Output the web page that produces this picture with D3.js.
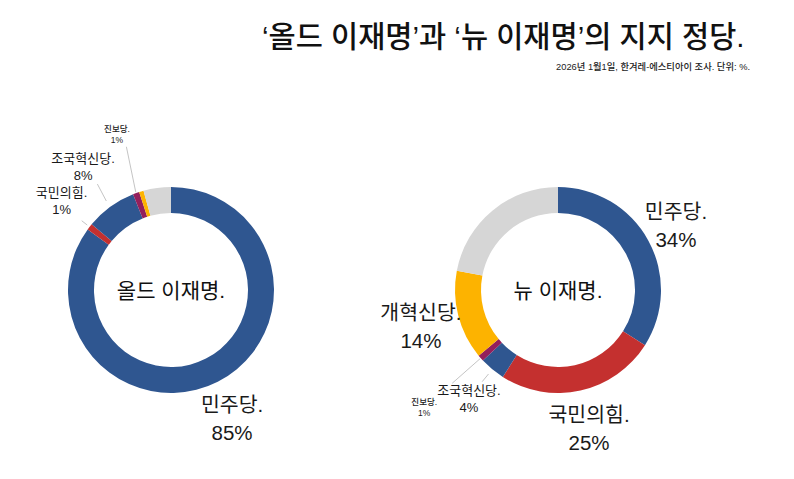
<!DOCTYPE html>
<html><head><meta charset="utf-8">
<script src="https://cdn.jsdelivr.net/npm/d3@7"></script>
<style>
html,body{margin:0;padding:0;background:#fff;}
svg{display:block;font-family:"Liberation Sans","Noto Sans CJK KR",sans-serif;}
</style>
</head><body>
<svg id="chart" width="794" height="479"></svg>
<script>
// ---- data ----
const titleText = "‘올드 이재명’과 ‘뉴 이재명’의 지지 정당.";
const subtitleText = "2026년 1월1일, 한겨레-에스티아이 조사. 단위: %.";
const parties = ["민주당", "국민의힘", "조국혁신당", "진보당", "개혁신당", "기타"];
const oldValues = [85, 1, 8, 1, 0.7, 4.3];
const newValues = [34, 25, 4, 1, 14, 22];
const oldLabels = ["85%", "1%", "8%", "1%", null, null];
const newLabels = ["34%", "25%", "4%", "1%", "14%", null];
const chartNames = ["올드 이재명.", "뉴 이재명."];

// ---- style / layout ----
const colors = d3.scaleOrdinal().domain(parties)
  .range(["#2f5690", "#c4302f", "#2f5690", "#931f5c", "#fdb300", "#d6d6d6"]);
const outerR = 103, innerR = 77;
// label layout per slice: radius, angle offset (deg), size class, leader [r0,r1]
const oldLayout = [
  {r:149, off:2.8, size:"big"},
  {r:138.5, off:0, size:"mid", leader:[106,113]},
  {r:147.5, off:-0.6, size:"mid", leader:[110,129], lOff:1.2},
  {r:161.8, off:0.3, size:"small", leader:[104,150], lOff:2.5},
  null, null
];
const newLayout = [
  {r:131, off:3, size:"big"},
  {r:149.3, off:0.6, size:"big"},
  {r:144.6, off:-1.6, size:"mid", leader:[109,119]},
  {r:180, off:-0.6, size:"small", leader:[104,141]},
  {r:144, off:-3.4, size:"big"},
  null
];
const sizes = {
  big:  {fs:20.5, gap:28, fw:400},
  mid:  {fs:13, gap:17, fw:400},
  small:{fs:8.5, gap:11.5, fw:500}
};

const svg = d3.select("#chart");

svg.append("text").attr("x", 262).attr("y", 47)
  .attr("font-size", 29.5).attr("font-weight", 500).attr("fill", "#111")
  .text(titleText);
svg.append("text").attr("x", 750).attr("y", 70).attr("text-anchor", "end")
  .attr("font-size", 9.3).attr("font-weight", 500).attr("fill", "#222")
  .text(subtitleText);

const pie = d3.pie().sort(null).value(d => d.v);
const arc = d3.arc().innerRadius(innerR).outerRadius(outerR);

function drawDonut(cx, cy, values, labels, layout, name) {
  const g = svg.append("g").attr("transform", `translate(${cx},${cy})`);
  const data = pie(parties.map((p, i) => ({p, v: values[i], lab: labels[i], lay: layout[i]})));
  g.selectAll("path.slice").data(data).join("path")
    .attr("class", "slice")
    .attr("d", arc)
    .attr("fill", d => colors(d.data.p));

  g.append("text").attr("x", 0).attr("y", 8)
    .attr("text-anchor", "middle").attr("font-size", 21).attr("fill", "#111")
    .text(name);

  const pol = (ang, r) => [Math.sin(ang) * r, -Math.cos(ang) * r];
  data.forEach(d => {
    if (!d.data.lab) return;
    const L = d.data.lay;
    const mid = (d.startAngle + d.endAngle) / 2;
    const la = mid + L.off * Math.PI / 180;
    const [x, y] = pol(la, L.r);
    const S = sizes[L.size];
    if (L.leader) {
      const [x0, y0] = pol(mid, L.leader[0]);
      const [x1, y1] = pol(mid + (L.lOff || 0) * Math.PI / 180, L.leader[1]);
      g.append("line").attr("x1", x0).attr("y1", y0).attr("x2", x1).attr("y2", y1)
        .attr("stroke", "#b5b5b5").attr("stroke-width", 0.8);
    }
    const t = g.append("text").attr("text-anchor", "middle")
      .attr("font-size", S.fs).attr("font-weight", S.fw).attr("fill", "#1a1a1a");
    t.append("tspan").attr("x", x).attr("y", y - S.gap / 2).text(d.data.p + ".");
    t.append("tspan").attr("x", x).attr("y", y + S.gap / 2).text(d.data.lab);
  });
}

drawDonut(171, 290, oldValues, oldLabels, oldLayout, chartNames[0]);
drawDonut(558, 290, newValues, newLabels, newLayout, chartNames[1]);
</script>
</body></html>
